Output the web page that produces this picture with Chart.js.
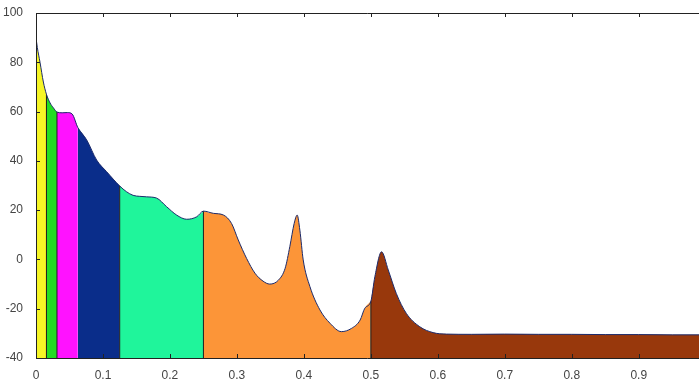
<!DOCTYPE html>
<html>
<head>
<meta charset="utf-8">
<script src="https://cdn.jsdelivr.net/npm/chart.js@4/dist/chart.umd.min.js"></script>
<style>
html,body{margin:0;padding:0;background:#fff;overflow:hidden;}
#wrap{width:699px;height:380px;}
</style>
</head>
<body>
<div id="wrap"><canvas id="c" width="699" height="380"></canvas></div>
<script>
// Spectrum curve (x = normalized frequency, y = magnitude)
const freqs = [0, 0.002, 0.006, 0.011, 0.0156, 0.021, 0.026, 0.0313, 0.039, 0.047, 0.054, 0.0625, 0.0757, 0.0906, 0.1055, 0.125, 0.135, 0.145, 0.155, 0.165, 0.18, 0.195, 0.21, 0.225, 0.24, 0.25, 0.265, 0.28, 0.292, 0.302, 0.3145, 0.327, 0.339, 0.349, 0.362, 0.372, 0.379, 0.3855, 0.39, 0.394, 0.399, 0.409, 0.424, 0.439, 0.456, 0.471, 0.484, 0.491, 0.5, 0.506, 0.516, 0.526, 0.538, 0.553, 0.573, 0.593, 0.613, 0.65, 0.7, 0.75, 0.8, 0.85, 0.9, 0.95, 0.99];
const magnitude = [90, 86, 80, 72, 67, 63.5, 61.5, 59.8, 59.5, 59.6, 59, 53.5, 48.5, 40.3, 35.6, 29.8, 27.5, 26, 25.6, 25.4, 24.9, 21.4, 18, 16.3, 17.3, 19.6, 18.7, 18, 14.6, 7.9, 0.4, -5.6, -8.8, -10, -8.4, -3.6, 5.2, 14.6, 18, 11.9, -0.2, -11, -20.5, -25.9, -29.3, -28, -24.6, -19.8, -17, -7, 3.1, -4.3, -13.8, -21.9, -27.3, -29.7, -30.3, -30.4, -30.3, -30.4, -30.4, -30.5, -30.5, -30.6, -30.6];
// Band edges and colours
const bandEdges = [0, 0.0156, 0.0313, 0.0625, 0.125, 0.25, 0.5, 0.99];
const bandColors = ['#f6f626', '#22dd22', '#ff12ff', '#0a2d8a', '#1ff59b', '#fc9538', '#98380c'];
const separatorEdges = [0.0156, 0.0313, 0.125, 0.25, 0.5];
// Tick labels
const xTicks = [0, 0.1, 0.2, 0.3, 0.4, 0.5, 0.6, 0.7, 0.8, 0.9];
const yTicks = [-40, -20, 0, 20, 40, 60, 80, 100];

const pts = freqs.map((x, i) => ({x: x, y: magnitude[i]}));
const eps = 1e-9;
const datasets = [];
for (let i = 0; i < bandColors.length; i++) {
  const a = bandEdges[i], b = bandEdges[i + 1];
  datasets.push({
    data: pts.filter(p => p.x >= a - eps && p.x <= b + eps),
    backgroundColor: bandColors[i],
    borderColor: bandColors[i],
    borderWidth: 0,
    pointRadius: 0,
    fill: 'start',
    cubicInterpolationMode: 'monotone',
    order: 3
  });
}
separatorEdges.forEach(e => {
  const idx = freqs.findIndex(v => Math.abs(v - e) < eps);
  datasets.push({
    data: [{x: e, y: -40}, {x: e, y: magnitude[idx]}],
    borderColor: '#1a1a1a',
    borderWidth: 1,
    pointRadius: 0,
    fill: false,
    order: 2
  });
});
datasets.push({
  data: pts,
  borderColor: '#1b2a6b',
  borderWidth: 1,
  pointRadius: 0,
  fill: false,
  cubicInterpolationMode: 'monotone',
  order: 1
});

const frame = {
  id: 'frame',
  afterDatasetsDraw(chart) {
    const ctx = chart.ctx, ca = chart.chartArea;
    const xs = chart.scales.x, ys = chart.scales.y;
    ctx.save();
    ctx.strokeStyle = '#222';
    ctx.lineWidth = 1;
    ctx.beginPath();
    ctx.moveTo(ca.left + 0.5, ca.top + 0.5);
    ctx.lineTo(ca.right, ca.top + 0.5);
    ctx.moveTo(ca.left + 0.5, ca.top);
    ctx.lineTo(ca.left + 0.5, ca.bottom + 0.5);
    ctx.lineTo(ca.right, ca.bottom + 0.5);
    xs.ticks.forEach(t => {
      const px = Math.round(xs.getPixelForValue(t.value)) + 0.5;
      ctx.moveTo(px, ca.bottom);
      ctx.lineTo(px, ca.bottom - 4);
      ctx.moveTo(px, ca.top);
      ctx.lineTo(px, ca.top + 4);
    });
    ys.ticks.forEach(t => {
      const py = Math.round(ys.getPixelForValue(t.value)) + 0.5;
      ctx.moveTo(ca.left, py);
      ctx.lineTo(ca.left + 4, py);
    });
    ctx.stroke();
    ctx.restore();
  }
};

new Chart(document.getElementById('c'), {
  type: 'line',
  data: {datasets: datasets},
  plugins: [frame],
  options: {
    responsive: false,
    animation: false,
    layout: {padding: {top: 13, right: 0, left: 0, bottom: 0}},
    plugins: {legend: {display: false}, tooltip: {enabled: false}},
    scales: {
      x: {
        type: 'linear',
        min: 0,
        max: 0.99,
        afterBuildTicks: s => { s.ticks = xTicks.map(v => ({value: v})); },
        afterFit: s => { s.height = 22; },
        grid: {display: false},
        border: {display: false},
        ticks: {
          padding: 2,
          color: '#444',
          font: {family: 'Liberation Sans, Arial, sans-serif', size: 12},
          maxRotation: 0,
          callback: v => String(v)
        }
      },
      y: {
        type: 'linear',
        min: -40,
        max: 100,
        afterBuildTicks: s => { s.ticks = yTicks.map(v => ({value: v})); },
        afterFit: s => { s.width = 36; },
        grid: {display: false},
        border: {display: false},
        ticks: {
          padding: 5,
          color: '#444',
          font: {family: 'Liberation Sans, Arial, sans-serif', size: 12},
          callback: v => String(v)
        }
      }
    }
  }
});
</script>
</body>
</html>
